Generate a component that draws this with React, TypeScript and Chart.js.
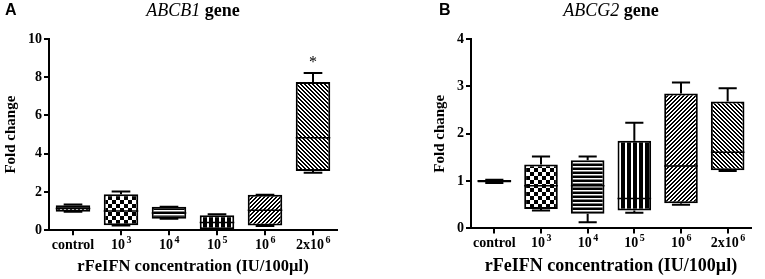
import React, { useEffect, useRef } from "react";
import { Chart, registerables } from "chart.js";

Chart.register(...registerables);

// ---------- data ----------
const categories = ["control", "10^3", "10^4", "10^5", "10^6", "2x10^6"];
const tickBases = ["control", "10", "10", "10", "10", "2x10"];
const tickExps = ["", "3", "4", "5", "6", "6"];

const abcb1Min = [0.96, 0.25, 0.6, 0.02, 0.22, 3.0];
const abcb1Q1 = [0.97, 0.26, 0.6, 0.05, 0.25, 3.09];
const abcb1Median = [1.13, 1.0, 0.9, 0.4, 1.04, 4.84];
const abcb1Q3 = [1.3, 1.88, 1.22, 0.78, 1.86, 7.75];
const abcb1Max = [1.34, 2.03, 1.22, 0.83, 1.86, 8.22];
const abcb1Marks = ["", "", "", "", "", "*"];
const abcb1Ticks = [0, 2, 4, 6, 8, 10];

const abcg2Min = [0.96, 0.38, 0.13, 0.33, 0.5, 1.21];
const abcg2Q1 = [0.97, 0.41, 0.31, 0.38, 0.53, 1.23];
const abcg2Median = [1.0, 0.9, 0.9, 0.63, 1.32, 1.61];
const abcg2Q3 = [1.02, 1.35, 1.44, 1.85, 2.85, 2.68];
const abcg2Max = [1.03, 1.52, 1.52, 2.23, 3.08, 2.96];
const abcg2Marks = ["", "", "", "", "", ""];
const abcg2Ticks = [0, 1, 2, 3, 4];

const xTitle = "rFeIFN concentration (IU/100µl)";
const yTitle = "Fold change";

// ---------- styling helpers ----------
const patternKinds = ["dash", "checker", "hlines", "vlines", "fwd", "back"];
const SERIF = "'Liberation Serif', 'Times New Roman', serif";

function makePattern(ctx: CanvasRenderingContext2D, kind: string): CanvasPattern | string {
  const c = document.createElement("canvas");
  const g = c.getContext("2d")!;
  const fill = (col: string, x: number, y: number, w: number, h: number) => {
    g.fillStyle = col;
    g.fillRect(x, y, w, h);
  };
  if (kind === "dash") {
    c.width = 4; c.height = 4;
    fill("#000", 0, 0, 4, 4);
    fill("#fff", 0, 1, 2, 1);
  } else if (kind === "checker") {
    c.width = 8; c.height = 8;
    fill("#fff", 0, 0, 8, 8);
    fill("#000", 0, 0, 4, 4);
    fill("#000", 4, 4, 4, 4);
  } else if (kind === "hlines") {
    c.width = 4; c.height = 4;
    fill("#000", 0, 0, 4, 4);
    fill("#fff", 0, 2, 4, 1.5);
  } else if (kind === "vlines") {
    c.width = 6; c.height = 6;
    fill("#000", 0, 0, 6, 6);
    fill("#fff", 3, 0, 2, 6);
  } else if (kind === "fwd") {
    c.width = 4; c.height = 4;
    fill("#fff", 0, 0, 4, 4);
    for (let x = 0; x < 4; x++)
      for (let y = 0; y < 4; y++)
        if ((x + y) % 4 < 2) fill("#000", x, y, 1, 1);
  } else {
    c.width = 4; c.height = 4;
    fill("#fff", 0, 0, 4, 4);
    for (let x = 0; x < 4; x++)
      for (let y = 0; y < 4; y++)
        if ((x - y + 8) % 4 < 2) fill("#000", x, y, 1, 1);
  }
  return ctx.createPattern(c, "repeat") || "#888";
}

type PanelProps = {
  letter: string;
  gene: string;
  mins: number[];
  q1s: number[];
  medians: number[];
  q3s: number[];
  maxs: number[];
  marks: string[];
  yTicks: number[];
  padLeft: number;
  padRight: number;
  xTitleSize: number;
};

function Panel(p: PanelProps) {
  const ref = useRef<HTMLCanvasElement | null>(null);

  useEffect(() => {
    const canvas = ref.current!;
    const ctx = canvas.getContext("2d")!;
    const patterns = patternKinds.map((k) => makePattern(ctx, k));
    const yMax = p.yTicks[p.yTicks.length - 1];
    const step = p.yTicks[1] - p.yTicks[0];

    const extras = {
      id: "boxExtras",
      afterDatasetsDraw(chart: any) {
        const { ctx: c, scales } = chart;
        const y = scales.y;
        const meta = chart.getDatasetMeta(0);
        c.save();
        c.strokeStyle = "#000";
        meta.data.forEach((bar: any, i: number) => {
          const cx = bar.x;
          const w = bar.width;
          const cap = w * 0.27;
          const yq1 = y.getPixelForValue(p.q1s[i]);
          const yq3 = y.getPixelForValue(p.q3s[i]);
          const ymin = y.getPixelForValue(p.mins[i]);
          const ymax = y.getPixelForValue(p.maxs[i]);
          const ymed = y.getPixelForValue(p.medians[i]);
          c.lineWidth = 2;
          c.beginPath();
          c.moveTo(cx, yq3); c.lineTo(cx, ymax);
          c.moveTo(cx - cap, ymax); c.lineTo(cx + cap, ymax);
          c.moveTo(cx, yq1); c.lineTo(cx, ymin);
          c.moveTo(cx - cap, ymin); c.lineTo(cx + cap, ymin);
          c.stroke();
          c.lineWidth = 1.5;
          c.beginPath();
          c.moveTo(cx - w / 2, ymed); c.lineTo(cx + w / 2, ymed);
          c.stroke();
          if (p.marks[i]) {
            c.fillStyle = "#000";
            c.font = `16px ${SERIF}`;
            c.textAlign = "center";
            c.textBaseline = "middle";
            c.fillText(p.marks[i], cx, ymax - 10);
          }
        });
        c.restore();
      },
      afterDraw(chart: any) {
        const { ctx: c, scales, chartArea } = chart;
        const x = scales.x;
        c.save();
        c.fillStyle = "#000";
        c.textBaseline = "alphabetic";
        // x tick labels with superscripts
        const baseFont = `bold 14px ${SERIF}`;
        const expFont = `bold 10px ${SERIF}`;
        categories.forEach((_, i) => {
          const px = x.getPixelForTick(i);
          c.font = baseFont;
          const bw = c.measureText(tickBases[i]).width;
          c.font = expFont;
          const ew = tickExps[i] ? c.measureText(tickExps[i]).width + 1 : 0;
          const start = px - (bw + ew) / 2;
          const by = chartArea.bottom + 19;
          c.textAlign = "left";
          c.font = baseFont;
          c.fillText(tickBases[i], start, by);
          if (tickExps[i]) {
            c.font = expFont;
            c.fillText(tickExps[i], start + bw + 1.5, by - 6);
          }
        });
        // title with italic gene name
        const itFont = `italic 18px ${SERIF}`;
        const bFont = `bold 18px ${SERIF}`;
        c.font = itFont;
        const gw = c.measureText(p.gene).width;
        c.font = bFont;
        const rest = " gene";
        const rw = c.measureText(rest).width;
        const mid = (chartArea.left + chartArea.right) / 2;
        const t0 = mid - (gw + rw) / 2;
        c.font = itFont;
        c.fillText(p.gene, t0, 16);
        c.font = bFont;
        c.fillText(rest, t0 + gw, 16);
        // panel letter
        c.font = "bold 16px 'Liberation Sans', Arial, sans-serif";
        c.fillText(p.letter, p.letter === "A" ? 5 : 57, 15);
        c.restore();
      },
    };

    const chart = new Chart(canvas, {
      type: "bar",
      data: {
        labels: categories,
        datasets: [
          {
            data: p.q1s.map((v, i) => [v, p.q3s[i]]) as any,
            backgroundColor: patterns as any,
            borderColor: "#000",
            borderWidth: 2,
            borderSkipped: false,
            barPercentage: 0.72,
            categoryPercentage: 1,
          },
        ],
      },
      options: {
        responsive: false,
        animation: false,
        events: [],
        layout: { padding: { left: p.padLeft, right: p.padRight, top: 39, bottom: 0 } },
        plugins: { legend: { display: false }, tooltip: { enabled: false }, title: { display: false } },
        scales: {
          x: {
            type: "category",
            offset: true,
            grid: { drawOnChartArea: false, drawTicks: true, tickLength: 5, color: "#000", lineWidth: 2, offset: false },
            border: { color: "#000", width: 2 },
            ticks: { display: false },
            title: {
              display: true,
              text: xTitle,
              color: "#000",
              font: { family: SERIF, size: p.xTitleSize, weight: "bold" },
              padding: { top: 22, bottom: 2 },
            },
          },
          y: {
            min: 0,
            max: yMax,
            grid: { drawOnChartArea: false, drawTicks: true, tickLength: 5, color: "#000", lineWidth: 2 },
            border: { color: "#000", width: 2 },
            ticks: {
              stepSize: step,
              color: "#000",
              padding: 2,
              font: { family: SERIF, size: 14, weight: "bold" },
            },
            title: {
              display: true,
              text: yTitle,
              color: "#000",
              font: { family: SERIF, size: 15, weight: "bold" },
              padding: { top: 2, bottom: 6 },
            },
          },
        },
      },
      plugins: [extras],
    });
    return () => chart.destroy();
  }, []);

  return <canvas ref={ref} width={382} height={279} style={{ display: "block", width: 382, height: 279 }} />;
}

export default function App() {
  return (
    <div style={{ position: "absolute", left: 0, top: 0, width: 765, height: 279, display: "flex", background: "#fff" }}>
      <Panel
        letter="A"
        gene="ABCB1"
        mins={abcb1Min}
        q1s={abcb1Q1}
        medians={abcb1Median}
        q3s={abcb1Q3}
        maxs={abcb1Max}
        marks={abcb1Marks}
        yTicks={abcb1Ticks}
        padLeft={0}
        padRight={45}
        xTitleSize={16.5}
      />
      <Panel
        letter="B"
        gene="ABCG2"
        mins={abcg2Min}
        q1s={abcg2Q1}
        medians={abcg2Median}
        q3s={abcg2Q3}
        maxs={abcg2Max}
        marks={abcg2Marks}
        yTicks={abcg2Ticks}
        padLeft={47}
        padRight={13}
        xTitleSize={18}
      />
    </div>
  );
}
